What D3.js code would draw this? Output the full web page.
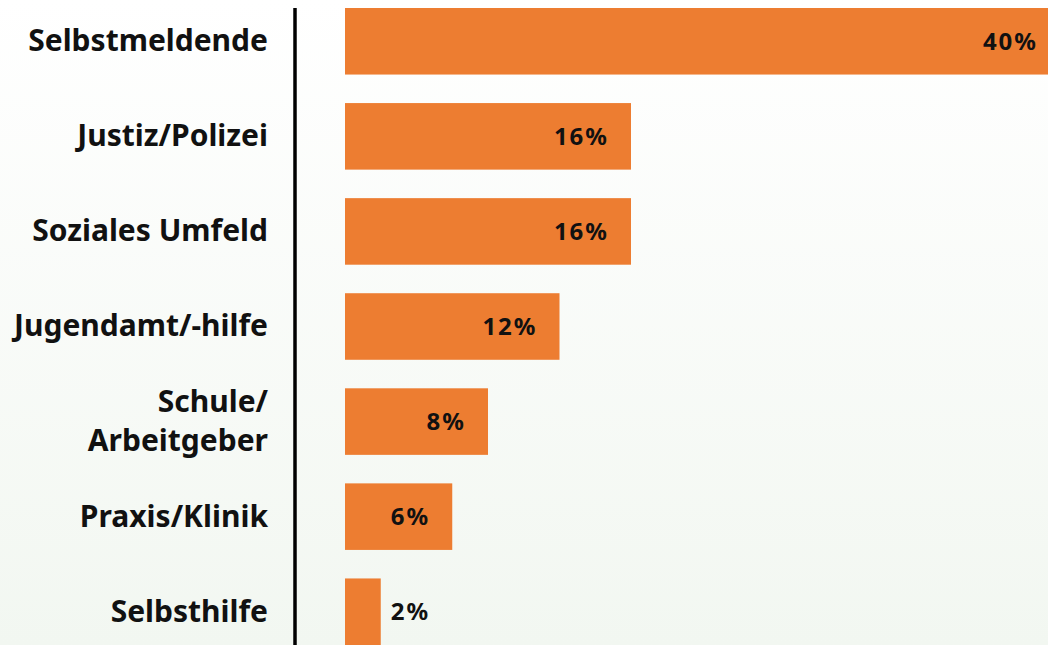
<!DOCTYPE html>
<html>
<head>
<meta charset="utf-8">
<script src="https://cdn.jsdelivr.net/npm/d3@7"></script>
<style>
  html, body { margin: 0; padding: 0; overflow: hidden; }
  text { font-family: "Noto Sans", sans-serif; font-weight: bold; fill: #111; }
</style>
</head>
<body>
<svg id="chart" width="1048" height="645"></svg>
<script>
const categories = ["Selbstmeldende", "Justiz/Polizei", "Soziales Umfeld", "Jugendamt/-hilfe", "Schule/\nArbeitgeber", "Praxis/Klinik", "Selbsthilfe"];
const shares = [40, 16, 16, 12, 8, 6, 2];
const valueLabels = ["40%", "16%", "16%", "12%", "8%", "6%", "2%"];

const data = categories.map((c, i) => ({ cat: c, value: shares[i], label: valueLabels[i] }));

const svg = d3.select("#chart");
const width = +svg.attr("width");
const height = +svg.attr("height");

const defs = svg.append("defs");
const grad = defs.append("linearGradient")
  .attr("id", "bg")
  .attr("x1", 0).attr("y1", 0).attr("x2", 0).attr("y2", 1);
grad.append("stop").attr("offset", "0%").attr("stop-color", "#ffffff");
grad.append("stop").attr("offset", "100%").attr("stop-color", "#f2f7f1");

svg.append("rect")
  .attr("width", width)
  .attr("height", height)
  .attr("fill", "url(#bg)");

const x = d3.scaleLinear()
  .domain([0, 40])
  .range([345, 1060]);

const y = d3.scaleBand()
  .domain(categories)
  .range([8, 645])
  .paddingInner(0.3)
  .paddingOuter(0);

// bars
svg.selectAll("rect.bar")
  .data(data)
  .join("rect")
  .attr("class", "bar")
  .attr("x", x(0))
  .attr("y", d => y(d.cat))
  .attr("width", d => x(d.value) - x(0))
  .attr("height", y.bandwidth())
  .attr("fill", "#ed7d31");

// axis line
svg.append("line")
  .attr("x1", 295).attr("x2", 295)
  .attr("y1", 8).attr("y2", height)
  .attr("stroke", "#000")
  .attr("stroke-width", 3.5);

// category labels
const labels = svg.selectAll("text.cat")
  .data(data)
  .join("text")
  .attr("class", "cat")
  .attr("text-anchor", "end")
  .attr("x", 268)
  .style("font-size", "30px");

labels.each(function(d) {
  const lines = d.cat.split("\n");
  const cy = y(d.cat) + y.bandwidth() / 2;
  const t = d3.select(this);
  lines.forEach((ln, i) => {
    t.append("tspan")
      .attr("x", 268)
      .attr("y", cy + (i - (lines.length - 1) / 2) * 39)
      .attr("dy", "0.33em")
      .text(ln);
  });
});

// value labels
svg.selectAll("text.val")
  .data(data)
  .join("text")
  .attr("class", "val")
  .attr("text-anchor", d => d.value < 4 ? "start" : "end")
  .attr("x", d => d.value < 4 ? x(d.value) + 10 : x(d.value) - 22)
  .attr("y", d => y(d.cat) + y.bandwidth() / 2)
  .attr("dy", "0.35em")
  .style("font-size", "24px")
  .style("letter-spacing", "2px")
  .text(d => d.label);
</script>
</body>
</html>
